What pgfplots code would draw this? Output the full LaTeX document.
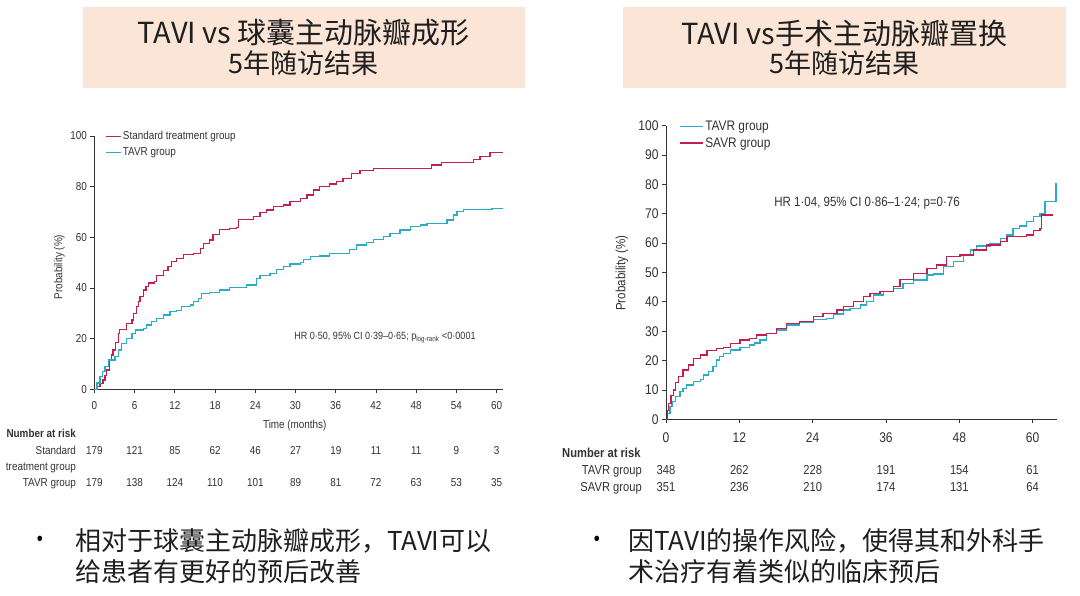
\documentclass[border=0pt]{standalone}
\usepackage{pgfplots}
\pgfplotsset{compat=1.18}
\usepackage{fontspec}
\setmainfont{Liberation Sans}[FakeStretch=0.86]
\newfontfamily\cjk{Noto Sans CJK SC}
\definecolor{redc}{HTML}{C21F4E}
\definecolor{cyanc}{HTML}{2AABC6}
\definecolor{boxc}{HTML}{FBE5D6}
\definecolor{axc}{HTML}{333333}
\newcommand{\fs}[1]{\fontsize{#1}{#1}\selectfont}

\pgfplotstableread{
t y
0 0
0.5 1.2
0.85 2.4
1.3 3.7
1.6 5.5
1.8 7.6
2.3 11.5
2.6 13.5
2.8 15.5
3.2 18.5
3.6 22
3.8 23.7
4.8 26
5.6 27.4
5.8 30
6.3 32.6
6.6 34.6
6.8 36.6
7.3 39.2
7.7 40.6
8.05 42
9.0 42.5
9.3 45
10.3 47
11.0 48.4
11.5 50.4
12.3 51.7
13.3 53.3
14.8 53.7
15.8 55.7
16.3 57.6
17.2 59
17.7 61
18.7 63
20.2 63.6
21.2 64
21.5 67.1
23.7 68.2
24.7 69.7
25.7 70.8
26.7 72.1
28.2 72.8
29.2 74.1
30.7 75.4
31.7 76.7
32.7 78.7
33.6 80
35.1 81
36.1 82
37.1 83.3
38.4 85.3
39.6 86.3
41.6 87.2
50.3 88.6
51.8 89.5
56.5 90.8
57.5 91.8
59.0 93.4
61 93.4
}\leftstd

\pgfplotstableread{
t y
0 0
0.4 2.5
0.85 5
1.2 7
1.6 9
2.1 11.6
3.1 12.9
3.6 15.5
4.1 18.2
4.8 20.1
5.6 22.1
6.1 23.4
7.3 24.1
7.8 25.4
8.5 26.7
9.3 28
10.3 29.3
11.3 30.7
12.3 31.1
13.0 32.6
14.3 33.3
14.8 34.6
15.5 35.9
16.0 37.9
17.2 38.3
18.7 39.2
20.2 40.1
22.7 41.2
24.2 43.8
24.7 44.9
26.2 45.8
27.2 47.4
28.2 48.4
29.2 49.5
30.7 50
31.2 51.3
32.2 52.4
33.6 52.6
35.1 53.7
38.1 55.3
39.1 57
40.6 57.9
41.6 59.2
43.1 60.3
44.1 61.6
45.6 62.9
47.1 64.2
48.6 64.9
49.6 65.5
52.6 66.8
53.6 68.8
54.1 70.1
55.1 71
59.3 71.4
61 71.4
}\lefttavr

\pgfplotstableread{
t y
0 0
0.3 2
0.65 4.3
1.0 6
1.5 7.7
2.3 9.4
2.8 10.5
3.4 11.7
4.5 12.8
5.6 13.6
6.1 15.1
6.9 16.2
7.7 17.9
8.3 20.2
8.8 21.5
9.4 22.5
10.5 23.6
12.1 24.4
13.7 25.3
14.5 26
15.4 27
16.5 29.3
18.1 30.4
19.7 32.1
21.9 32.9
24.1 34.1
26.3 34.4
27.4 35.9
29.0 37.2
30.1 37.8
31.8 38.9
32.8 40.1
33.9 42.3
35.6 43.5
37.2 44.6
38.8 46.3
40.5 47.4
42.7 49.1
43.8 49.5
45.4 52
47.0 53.7
48.7 56
49.8 57.7
50.8 59
53.0 59.9
54.7 61.6
55.8 62.8
56.8 65
57.9 65.8
59.0 67.3
60.1 69
61.2 70.1
62.0 74.1
63.8 80.6
}\righttavr

\pgfplotstableread{
t y
0 0
0.2 3
0.4 5.4
0.8 8
1.2 10
1.6 12.5
2.0 14.5
2.8 16.8
3.7 18.5
4.5 20.8
5.6 21.9
6.7 23.4
8.3 24.2
9.4 24.5
10.5 25.9
12.1 27
13.7 27.6
14.8 28.7
16.5 29.3
18.1 31
19.7 32.7
21.9 33.3
24.1 35
25.7 36.1
28.0 37.2
29.0 38.4
30.7 40.1
32.3 41.8
33.4 42.9
35.0 43.5
37.2 45.2
38.3 47.7
40.5 49.7
42.7 51.4
44.3 52.6
45.9 55.4
48.1 56
50.3 57.7
52.5 59.4
54.7 60.6
55.8 62.3
59.0 62.8
60.1 64.2
61.2 65
61.5 69.6
63.3 69.6
}\rightsavr

\pgfplotsset{
  kmaxis/.style={
    scale only axis, anchor=south west,
    ymin=0, ymax=100, xmin=0,
    axis lines=left,
    axis line style={-, axc, line width=0.8pt},
    tick align=outside, major tick length=4pt,
    tick style={axc, line width=0.8pt},
    /pgf/number format/assume math mode=true,
    clip=false,
    legend cell align=left,
  }
}

\begin{document}
\begin{tikzpicture}
\fill[white] (0pt,0pt) rectangle (1080pt,595pt);
% title boxes
\fill[boxc] (82.7pt,506.7pt) rectangle (525pt,587.7pt);
\fill[boxc] (623pt,506.7pt) rectangle (1066pt,587.7pt);
\node[font=\cjk\fs{29}, text=black!88, inner sep=0] at (303.9pt,562pt) {TAVI vs 球囊主动脉瓣成形};
\node[font=\cjk\fs{27}, text=black!88, inner sep=0] at (303.9pt,531.5pt) {5年随访结果};
\node[font=\cjk\fs{29}, text=black!88, inner sep=0] at (844.5pt,562pt) {TAVI vs手术主动脉瓣置换};
\node[font=\cjk\fs{27}, text=black!88, inner sep=0] at (844.5pt,531.5pt) {5年随访结果};
% bullets
\node[font=\fs{20}, inner sep=0] at (40pt,54pt) {•};
\node[anchor=west, font=\cjk\fs{26}, text=black!88, inner sep=0] at (75pt,54pt) {相对于球囊主动脉瓣成形，TAVI可以};
\node[anchor=west, font=\cjk\fs{26}, text=black!88, inner sep=0] at (75pt,23pt) {给患者有更好的预后改善};
\node[font=\fs{20}, inner sep=0] at (597pt,54pt) {•};
\node[anchor=west, font=\cjk\fs{26}, text=black!88, inner sep=0] at (628pt,54pt) {因TAVI的操作风险，使得其和外科手};
\node[anchor=west, font=\cjk\fs{26}, text=black!88, inner sep=0] at (628pt,23pt) {术治疗有着类似的临床预后};

% left chart
\begin{axis}[kmaxis,
  at={(94.3pt,205.7pt)}, width=409.1pt, height=253.3pt, xmax=61,
  xtick={0,6,...,60}, ytick={0,20,...,100},
  ticklabel style={font=\fs{11.5}, text=axc},
  xticklabel style={yshift=-5pt},
  xlabel={Time (months)}, ylabel={Probability (\%)},
  label style={font=\fs{11.5}, text=axc},
  xlabel style={at={(axis description cs:0.49,-0.142)}, anchor=center},
  ylabel style={at={(axis description cs:-0.0856,0.483)}, anchor=center},
  legend image code/.code={\draw[#1, line width=1.3pt] (0pt,0pt) -- (15pt,0pt);},
  legend style={draw=none, fill=none, at={(axis description cs:0.026,1.025)}, anchor=north west,
    font=\fs{11.5}, text=axc, row sep=3.5pt, inner sep=0pt, nodes={inner sep=1.5pt}},
]
\addplot[const plot, redc, line width=1.3pt] table[x=t,y=y] {\leftstd};
\addlegendentry{Standard treatment group}
\addplot[const plot, cyanc, line width=1.3pt] table[x=t,y=y] {\lefttavr};
\addlegendentry{TAVR group}
\node[anchor=west, inner sep=0, font=\fs{10.5}, text=axc] at (axis cs:29.8,20.5) {HR 0·50, 95\% CI 0·39–0·65; p\textsubscript{log-rank} <0·0001};
\end{axis}

% left risk table
\begin{scope}[every node/.style={font=\fs{11.5}, text=axc, inner sep=0, anchor=base}]
\node[anchor=base east, font=\bfseries\fs{11.5}] at (76pt,157.9pt) {Number at risk};
\node[anchor=base east] at (76pt,140.9pt) {Standard};
\node[anchor=base east] at (76pt,124.9pt) {treatment group};
\node[anchor=base east] at (76pt,108.9pt) {TAVR group};
\foreach \t/\n in {0/179,6/121,12/85,18/62,24/46,30/27,36/19,42/11,48/11,54/9,60/3}
  \node at ({(94.3+6.707*\t)*1pt},140.9pt) {\n};
\foreach \t/\n in {0/179,6/138,12/124,18/110,24/101,30/89,36/81,42/72,48/63,54/53,60/35}
  \node at ({(94.3+6.707*\t)*1pt},108.9pt) {\n};
\end{scope}

% right chart
\begin{axis}[kmaxis,
  at={(666pt,175.7pt)}, width=391.1pt, height=293.6pt, xmax=64,
  xtick={0,12,...,60}, ytick={0,10,...,100},
  ticklabel style={font=\fs{14}, text=axc},
  xticklabel style={yshift=-6pt},
  ylabel={Probability (\%)},
  label style={font=\fs{13.5}, text=axc},
  ylabel style={at={(axis description cs:-0.1125,0.498)}, anchor=center},
  legend image code/.code={\draw[#1, line width=1.3pt] (0pt,0pt) -- (23pt,0pt);},
  legend style={draw=none, fill=none, at={(axis description cs:0.034,1.022)}, anchor=north west,
    font=\fs{13.8}, text=axc, row sep=2.5pt, inner sep=0pt, nodes={inner sep=1.5pt}},
]
\addplot[const plot, cyanc, line width=1.3pt] table[x=t,y=y] {\righttavr};
\addlegendentry{TAVR group}
\addplot[const plot, redc, line width=1.3pt] table[x=t,y=y] {\rightsavr};
\addlegendentry{SAVR group}
\node[anchor=west, inner sep=0, font=\fs{13.4}, text=axc] at (axis cs:17.7,73.7) {HR 1·04, 95\% CI 0·86–1·24; p=0·76};
\end{axis}

% right risk table
\begin{scope}[every node/.style={font=\fs{13}, text=axc, inner sep=0, anchor=base}]
\node[anchor=base west, font=\bfseries\fs{13}] at (562pt,137.3pt) {Number at risk};
\node[anchor=base east] at (642pt,120.3pt) {TAVR group};
\node[anchor=base east] at (642pt,103.3pt) {SAVR group};
\foreach \t/\n in {0/348,12/262,24/228,36/191,48/154,60/61}
  \node at ({(666+6.111*\t)*1pt},120.3pt) {\n};
\foreach \t/\n in {0/351,12/236,24/210,36/174,48/131,60/64}
  \node at ({(666+6.111*\t)*1pt},103.3pt) {\n};
\end{scope}
\end{tikzpicture}
\end{document}
